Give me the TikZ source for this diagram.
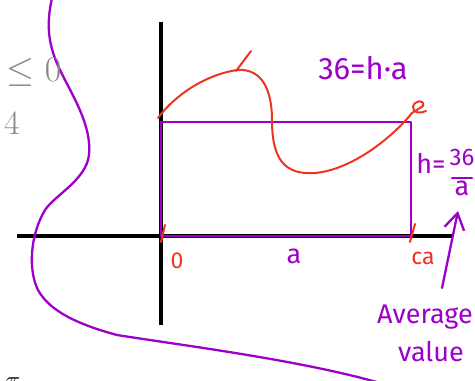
\documentclass[tikz,border=0pt]{standalone}
\usepackage{fontspec}
\setsansfont{Fira Sans}
\usepackage{tikz}
\usetikzlibrary{arrows.meta,positioning}
\definecolor{penpurple}{RGB}{158,0,200}
\definecolor{penred}{RGB}{238,52,32}
\definecolor{inkgray}{RGB}{135,135,135}

\begin{document}
\begin{tikzpicture}[
  x=1pt, y=-1pt,
  axis/.style={line width=3.5pt, black},
  purple pen/.style={line width=2.3pt, penpurple, line cap=round, line join=round},
  red pen/.style={line width=2pt, penred, line cap=round, line join=round},
  purple note/.style={text=penpurple, font=\sffamily\fontsize{27}{29}\selectfont, inner sep=0pt},
  red note/.style={text=penred, font=\sffamily\fontsize{23}{25}\selectfont, inner sep=0pt},
  gray note/.style={text=inkgray, font=\fontsize{34}{36}\selectfont, inner sep=0pt}
]
  \useasboundingbox (0,0) rectangle (475,381);
  \clip (0,0) rectangle (475,381);

  % Axes
  \coordinate (xl) at (17,236);
  \coordinate (xr) at (452,236);
  \coordinate (yt) at (161,22);
  \coordinate (yb) at (161,325);
  \draw[axis] (xl) -- (xr);
  \draw[axis] (yt) -- (yb);

  % Rectangle of average height
  \coordinate (o) at (161,236);
  \coordinate (c) at (411,122);
  \draw[purple pen] (o) rectangle (c);

  % Function curve
  \draw[red pen] (158,118) .. controls (175,95) and (205,75) .. (237,70)
    .. controls (262,68) and (272,90) .. (272,120)
    .. controls (272,160) and (285,175) .. (315,173)
    .. controls (350,170) and (390,140) .. (412,113)
    -- (423,106) .. controls (425,99) and (414,100) .. (413,107)
    .. controls (413,113) and (420,114) .. (426,111);
  \draw[red pen] (236,71) -- (251,51);

  % Tick marks
  \draw[red pen] (165,225) -- (161,242);
  \draw[red pen] (415,224) -- (410,242);

  % Labels on the axis
  \node[red note] (zero) at (177,261) {0};
  \node[purple note] (alabel) at (294,256) {a};
  \node[red note] (calabel) at (423,258) {ca};

  % Area and height
  \node[purple note, font=\sffamily\fontsize{31}{33}\selectfont] (area) at (363,68) {36=h·a};
  \node[purple note] (height) at (431,163) {h=};
  \node[purple note, font=\sffamily\fontsize{24}{26}\selectfont] (num) at (462,157) {36};
  \node[purple note] (den) at (462,188) {a};
  \draw[purple pen] (452,178) -- (472,178);

  % Average value arrow
  \coordinate (arrtail) at (442,288);
  \coordinate (arrhead) at (458,211);
  \draw[purple pen, -{Straight Barb[length=16pt, width=20pt]}] (arrtail) -- (arrhead);
  \node[purple note] (avg) at (425,317) {Average};
  \node[purple note] (val) at (431,352) {value};

  % Loop around the sketch
  \draw[purple pen] (52,-2) .. controls (46,25) and (48,45) .. (60,70)
    .. controls (72,95) and (92,125) .. (89,155)
    .. controls (86,180) and (55,195) .. (45,210)
    .. controls (30,235) and (28,270) .. (38,290)
    .. controls (50,312) and (80,325) .. (117,335)
    .. controls (180,345) and (300,360) .. (380,383);

  % Leftover notes
  \node[gray note, scale=1.45] (leq) at (34,72) {$\leq 0$};
  \node[gray note] (four) at (12,123) {4};
  \node[font=\fontsize{30}{32}\selectfont, inner sep=0pt] (pi) at (13,383) {$\pi$};
\end{tikzpicture}
\end{document}
